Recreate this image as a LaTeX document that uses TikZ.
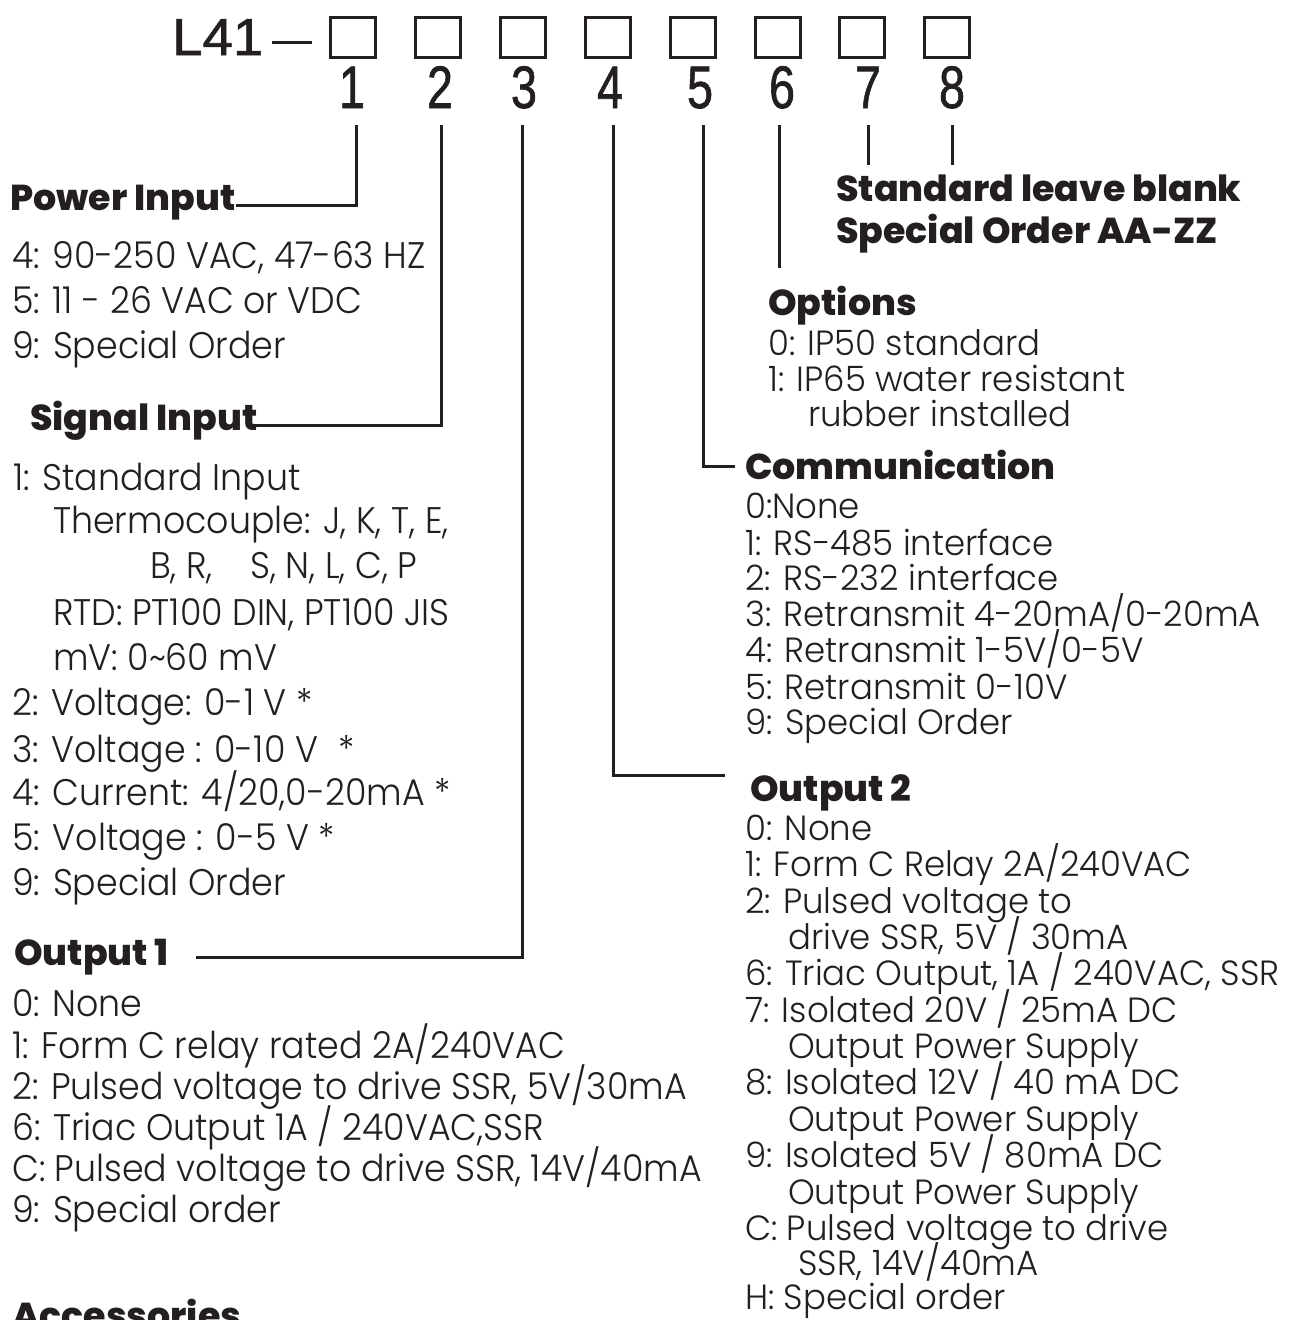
\documentclass[tikz,border=0pt]{standalone}
\usepackage{fontspec}
\usepackage{graphicx}
\setmainfont{Poppins}[UprightFont={* Light}, BoldFont={* ExtraBold}]
\newfontfamily\condfont{Liberation Sans}[FakeBold=1.2]
\definecolor{ink}{HTML}{231F20}
\newcommand\sxl[1]{\scalebox{0.94}[1]{#1}}
\newcommand\sxr[1]{\scalebox{0.97}[1]{#1}}
\newcommand\sxb[1]{\scalebox{1.01}[1]{#1}}
\begin{document}
\begin{tikzpicture}[x=1pt,y=-1pt,
  lt/.style={anchor=base west, inner sep=0pt, text=ink, font=\fontsize{37}{37}\selectfont},
  rt/.style={anchor=base west, inner sep=0pt, text=ink, font=\fontsize{35}{35}\selectfont},
  ttl/.style={anchor=base west, inner sep=0pt, text=ink, font=\fontsize{36}{36}\selectfont\bfseries},
  codebox/.style={draw=ink, line width=2.5pt, minimum width=45pt, minimum height=40pt, inner sep=0pt},
  dig/.style={anchor=base, inner sep=0pt, text=ink, font=\condfont\fontsize{60}{60}\selectfont},
  lead/.style={draw=ink, line width=3pt}]
\useasboundingbox (0,0) rectangle (1309,1320);
\fill[white] (0,0) rectangle (1309,1320);
\clip (0,0) rectangle (1309,1320);

% header
\node[anchor=base west, inner sep=0pt, text=ink, font=\condfont\fontsize{52}{52}\selectfont] (model) at (172,55) {\scalebox{1.05}[1]{L41}};
\coordinate (dashL) at (272,42);
\coordinate (dashR) at (312,42);
\draw[lead] (dashL) -- (dashR);
\foreach \i/\x in {1/353,2/438,3/523,4/608,5/693,6/778,7/862,8/947}
  \node[codebox] (b\i) at (\x,37.5) {};
\foreach \i/\x in {1/352,2/440,3/524,4/610,5/700,6/782,7/868,8/952}
  \node[dig] (d\i) at (\x,108) {\scalebox{0.78}[1]{\i}};

% leader coordinates
\coordinate (t1) at (356,125);
\coordinate (t2) at (441,125);
\coordinate (t3) at (522,125);
\coordinate (t4) at (613,125);
\coordinate (t5) at (703,125);
\coordinate (t6) at (779,125);
\coordinate (t7) at (868,125);
\coordinate (t8) at (952,125);
\coordinate (e1) at (236,205);
\coordinate (e2) at (250,425);
\coordinate (e3) at (196,957);
\coordinate (e4) at (725,775);
\coordinate (e5) at (735,466);
\coordinate (e6) at (779,268);
\coordinate (e7) at (868,165);
\coordinate (e8) at (952,165);
\draw[lead] (t1) |- (e1);
\draw[lead] (t2) |- (e2);
\draw[lead] (t3) |- (e3);
\draw[lead] (t4) |- (e4);
\draw[lead] (t5) |- (e5);
\draw[lead] (t6) -- (e6);
\draw[lead] (t7) -- (e7);
\draw[lead] (t8) -- (e8);

% Power input
\node[ttl] (pin) at (10,210) {\sxb{Power Input}};
\node[lt] (p1) at (12,268) {\sxl{4: 90-250 VAC, 47-63 HZ}};
\node[lt] (p2) at (12,313) {\sxl{5: 11 - 26 VAC or VDC}};
\node[lt] (p3) at (12,358) {\sxl{9: Special Order}};

% Signal input
\node[ttl] (sin) at (30,430) {\sxb{Signal Input}};
\node[lt] (s1) at (13,490) {\sxl{1: Standard Input}};
\node[lt] (s2) at (53,533) {\sxl{Thermocouple: J, K, T, E,}};
\node[lt] (s3a) at (150,578) {\sxl{B, R,}};
\node[lt] (s3b) at (250,578) {\sxl{S, N, L, C, P}};
\node[lt] (s4) at (53,625) {\sxl{RTD: PT100 DIN, PT100 JIS}};
\node[lt] (s5) at (53,670) {\sxl{mV: 0\textasciitilde60 mV}};
\node[lt] (s6) at (12,715) {\sxl{2: Voltage: 0-1 V *}};
\node[lt] (s7) at (12,762) {\sxl{3: Voltage : 0-10 V\hspace{0.6em}*}};
\node[lt] (s8) at (12,805) {\sxl{4: Current: 4/20,0-20mA *}};
\node[lt] (s9) at (12,850) {\sxl{5: Voltage : 0-5 V *}};
\node[lt] (s10) at (12,895) {\sxl{9: Special Order}};

% Output 1
\node[ttl] (o1t) at (14,965) {\sxb{Output 1}};
\node[lt] (o1a) at (12,1016) {\sxl{0: None}};
\node[lt] (o1b) at (12,1058) {\sxl{1: Form C relay rated 2A/240VAC}};
\node[lt] (o1c) at (12,1099) {\sxl{2: Pulsed voltage to drive SSR, 5V/30mA}};
\node[lt] (o1d) at (12,1140) {\sxl{6: Triac Output 1A / 240VAC,SSR}};
\node[lt] (o1e) at (12,1181) {\sxl{C: Pulsed voltage to drive SSR, 14V/40mA}};
\node[lt] (o1f) at (12,1222) {\sxl{9: Special order}};
\node[ttl] (acc) at (12,1328) {\sxb{Accessories}};

% Digits 7-8
\node[ttl] (sb1) at (836,201) {\sxb{Standard leave blank}};
\node[ttl] (sb2) at (836,243) {\sxb{Special Order AA-ZZ}};

% Options
\node[ttl] (opt) at (768,315) {\sxb{Options}};
\node[rt] (op1) at (768,355) {\sxr{0: IP50 standard}};
\node[rt] (op2) at (768,391) {\sxr{1: IP65 water resistant}};
\node[rt] (op3) at (808,426) {\sxr{rubber installed}};

% Communication
\node[ttl] (com) at (745,479) {\sxb{Communication}};
\node[rt] (c1) at (745,518) {\sxr{0:None}};
\node[rt] (c2) at (745,555) {\sxr{1: RS-485 interface}};
\node[rt] (c3) at (745,590) {\sxr{2: RS-232 interface}};
\node[rt] (c4) at (745,626) {\sxr{3: Retransmit 4-20mA/0-20mA}};
\node[rt] (c5) at (745,662) {\sxr{4: Retransmit 1-5V/0-5V}};
\node[rt] (c6) at (745,699) {\sxr{5: Retransmit 0-10V}};
\node[rt] (c7) at (745,734) {\sxr{9: Special Order}};

% Output 2
\node[ttl] (o2t) at (750,801) {\sxb{Output 2}};
\node[rt] (q1) at (745,840) {\sxr{0: None}};
\node[rt] (q2) at (745,876) {\sxr{1: Form C Relay 2A/240VAC}};
\node[rt] (q3) at (745,913) {\sxr{2: Pulsed voltage to}};
\node[rt] (q4) at (788,949) {\sxr{drive SSR, 5V / 30mA}};
\node[rt] (q5) at (745,985) {\sxr{6: Triac Output, 1A / 240VAC, SSR}};
\node[rt] (q6) at (745,1022) {\sxr{7: Isolated 20V / 25mA DC}};
\node[rt] (q7) at (788,1058) {\sxr{Output Power Supply}};
\node[rt] (q8) at (745,1094) {\sxr{8: Isolated 12V / 40 mA DC}};
\node[rt] (q9) at (788,1131) {\sxr{Output Power Supply}};
\node[rt] (q10) at (745,1167) {\sxr{9: Isolated 5V / 80mA DC}};
\node[rt] (q11) at (788,1204) {\sxr{Output Power Supply}};
\node[rt] (q12) at (745,1240) {\sxr{C: Pulsed voltage to drive}};
\node[rt] (q13) at (798,1275) {\sxr{SSR, 14V/40mA}};
\node[rt] (q14) at (745,1309) {\sxr{H: Special order}};
\end{tikzpicture}
\end{document}
